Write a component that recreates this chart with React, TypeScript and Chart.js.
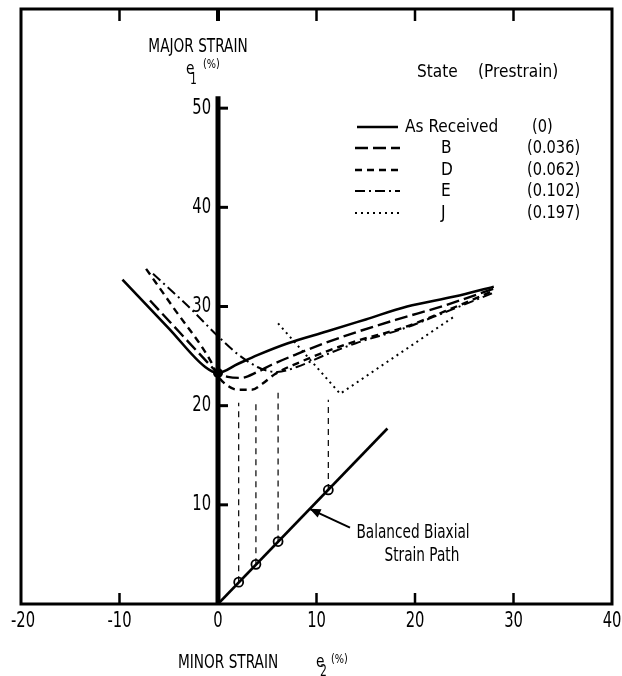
import React, { useEffect, useRef } from "react";
import { Chart, registerables } from "chart.js";

Chart.register(...registerables);

const X_TICKS = [-20, -10, 0, 10, 20, 30, 40];
const Y_TICKS = [10, 20, 30, 40, 50];
const TOP_TICKS = [-10, 0, 10, 20, 30];
const BOTTOM_TICKS = [-10, 10, 20, 30];
const Y_AXIS_TOP = 51.2;

const AS_RECEIVED_X = [-9.7, -5, -1.3, 0, 2, 4, 7.1, 11.1, 15, 19.2, 24, 28];
const AS_RECEIVED_Y = [32.7, 27.8, 23.9, 23.3, 24.2, 25.1, 26.3, 27.5, 28.7, 30.0, 31.0, 32.0];

const B_X = [-6.9, -4, -1, 0, 1, 2.3, 4, 5.4, 8, 11.1, 14, 18.2, 23, 28];
const B_Y = [30.6, 27.5, 24.3, 23.3, 22.9, 22.8, 23.4, 24.1, 25.2, 26.4, 27.4, 28.7, 30.1, 31.8];

const D_X = [-7.3, -4.5, -0.8, 0, 1, 2, 3.4, 4.5, 5.8, 8.1, 11.1, 14, 18.9, 23, 28];
const D_Y = [33.8, 29.85, 24.6, 23.0, 22.0, 21.6, 21.6, 22.2, 23.2, 24.3, 25.5, 26.5, 27.9, 29.5, 31.6];

const E_X = [-6.6, -3, 0, 2, 4, 5.1, 6, 8, 11.1, 14, 18.9, 23, 28];
const E_Y = [33.3, 30.0, 27.0, 25.2, 23.9, 23.5, 23.4, 23.9, 25.2, 26.3, 27.8, 29.4, 31.4];

const J_X = [6.1, 12.4, 24.0];
const J_Y = [28.3, 21.2, 29.0];

const PATH_X = [0, 17.2];
const PATH_Y = [0, 17.7];

const PRESTRAIN_X = [2.1, 3.85, 6.1, 11.2];
const PRESTRAIN_Y = [2.2, 4.0, 6.3, 11.5];
const DROP_TOP_Y = [20.3, 20.6, 21.3, 20.6];

const JUNCTION_X = [0];
const JUNCTION_Y = [23.3];

const ARROW_TAIL = [13.4, 7.7];
const ARROW_TIP = [9.3, 9.6];

const LEGEND_STATES = ["As Received", "B", "D", "E", "J"];
const LEGEND_PRESTRAIN = ["(0)", "(0.036)", "(0.062)", "(0.102)", "(0.197)"];

const FONT = '"DejaVu Sans Condensed", "Liberation Sans Narrow", "DejaVu Sans", sans-serif';

const STYLES = [
  { dash: [] as number[], width: 2.6 },
  { dash: [13, 5], width: 2.4 },
  { dash: [7, 5], width: 2.4 },
  { dash: [10, 4, 2, 4], width: 2.0 },
  { dash: [2, 4], width: 2.0 },
];

const pts = (xs: number[], ys: number[]) => xs.map((v, i) => ({ x: v, y: ys[i] }));

const curve = (label: string, xs: number[], ys: number[], idx: number, smooth = true) => ({
  label,
  data: pts(xs, ys),
  borderColor: "#000",
  borderWidth: STYLES[idx].width,
  borderDash: STYLES[idx].dash,
  borderCapStyle: "butt",
  pointRadius: 0,
  fill: false,
  showLine: true,
  cubicInterpolationMode: smooth ? "monotone" : "default",
  tension: 0,
});

const txt = (
  ctx: CanvasRenderingContext2D,
  s: string,
  x: number,
  y: number,
  size: number,
  sx: number,
  align: CanvasTextAlign = "left",
) => {
  ctx.save();
  ctx.font = `${size}px ${FONT}`;
  ctx.textAlign = align;
  ctx.textBaseline = "middle";
  ctx.translate(x, y);
  ctx.scale(sx, 1);
  ctx.fillText(s, 0, 0);
  ctx.restore();
};

const overlayPlugin = {
  id: "overlay",
  afterDatasetsDraw(chart: any) {
    const { ctx, chartArea: a, scales } = chart;
    const xs = scales.x;
    const ys = scales.y;
    const line = (x1: number, y1: number, x2: number, y2: number) => {
      ctx.beginPath();
      ctx.moveTo(x1, y1);
      ctx.lineTo(x2, y2);
      ctx.stroke();
    };
    ctx.save();
    ctx.strokeStyle = "#000";
    ctx.fillStyle = "#000";
    ctx.setLineDash([]);
    ctx.lineCap = "butt";

    // frame
    ctx.lineWidth = 3;
    ctx.strokeRect(a.left, a.top, a.right - a.left, a.bottom - a.top);

    TOP_TICKS.forEach((v) => {
      const px = xs.getPixelForValue(v);
      ctx.lineWidth = v === 0 ? 4 : 2.5;
      line(px, a.top, px, a.top + 12);
    });
    ctx.lineWidth = 2.5;
    BOTTOM_TICKS.forEach((v) => {
      const px = xs.getPixelForValue(v);
      line(px, a.bottom, px, a.bottom - 11);
    });

    // x tick labels
    X_TICKS.forEach((v) => {
      txt(ctx, String(v), xs.getPixelForValue(v) + (v === -20 ? 2 : 0), a.bottom + 18, 21, 0.78, "center");
    });

    // y axis at x = 0
    const x0 = xs.getPixelForValue(0);
    ctx.lineWidth = 5;
    line(x0, ys.getPixelForValue(0), x0, ys.getPixelForValue(Y_AXIS_TOP));
    ctx.lineWidth = 3;
    Y_TICKS.forEach((v) => {
      const py = ys.getPixelForValue(v);
      line(x0, py, x0 + 10, py);
      txt(ctx, String(v), x0 - 7, py, 21, 0.78, "right");
    });

    // arrow
    const tx = xs.getPixelForValue(ARROW_TAIL[0]);
    const ty = ys.getPixelForValue(ARROW_TAIL[1]);
    const hx = xs.getPixelForValue(ARROW_TIP[0]);
    const hy = ys.getPixelForValue(ARROW_TIP[1]);
    ctx.lineWidth = 2;
    line(tx, ty, hx, hy);
    const ang = Math.atan2(hy - ty, hx - tx);
    const L = 11;
    const W = 4.5;
    ctx.beginPath();
    ctx.moveTo(hx, hy);
    ctx.lineTo(hx - L * Math.cos(ang) + W * Math.sin(ang), hy - L * Math.sin(ang) - W * Math.cos(ang));
    ctx.lineTo(hx - L * Math.cos(ang) - W * Math.sin(ang), hy - L * Math.sin(ang) + W * Math.cos(ang));
    ctx.closePath();
    ctx.fill();

    // annotation text
    txt(ctx, "Balanced Biaxial", xs.getPixelForValue(19.8), ys.getPixelForValue(7.2), 19, 0.8, "center");
    txt(ctx, "Strain Path", xs.getPixelForValue(20.7), ys.getPixelForValue(4.8), 19, 0.8, "center");

    // y title
    txt(ctx, "MAJOR STRAIN", 198, 47, 19, 0.8, "center");
    txt(ctx, "e", 186, 69, 18, 0.85, "left");
    txt(ctx, "1", 190, 80, 15, 0.8, "left");
    txt(ctx, "(%)", 203, 65, 12, 0.9, "left");

    // x title
    txt(ctx, "MINOR STRAIN", 178, 663, 19, 0.8, "left");
    txt(ctx, "e", 316, 662, 18, 0.85, "left");
    txt(ctx, "2", 320, 672, 15, 0.8, "left");
    txt(ctx, "(%)", 331, 660, 12, 0.9, "left");

    // legend
    txt(ctx, "State", 417, 72, 18, 0.95, "left");
    txt(ctx, "(Prestrain)", 478, 72, 18, 0.95, "left");
    const rowY = [127, 148, 170, 191, 213];
    LEGEND_STATES.forEach((name, i) => {
      const yy = rowY[i];
      ctx.setLineDash(STYLES[i].dash);
      ctx.lineWidth = STYLES[i].width;
      line(i === 0 ? 357 : 355, yy, i === 0 ? 398 : 400, yy);
      ctx.setLineDash([]);
      txt(ctx, name, i === 0 ? 405 : 441, yy, 18, 0.95, "left");
      txt(ctx, LEGEND_PRESTRAIN[i], i === 0 ? 532 : 527, yy, 18, 0.9, "left");
    });

    ctx.restore();
  },
};

export default function App() {
  const ref = useRef<HTMLCanvasElement | null>(null);
  useEffect(() => {
    if (!ref.current) return;
    const drops = PRESTRAIN_X.map((px, i) => ({
      label: `drop${i}`,
      data: [
        { x: px, y: PRESTRAIN_Y[i] },
        { x: px, y: DROP_TOP_Y[i] },
      ],
      borderColor: "#000",
      borderWidth: 1.2,
      borderDash: [6, 5],
      pointRadius: 0,
      showLine: true,
      fill: false,
    }));
    const chart = new Chart(ref.current, {
      type: "scatter",
      data: {
        datasets: [
          ...drops,
          curve("As Received", AS_RECEIVED_X, AS_RECEIVED_Y, 0),
          curve("B", B_X, B_Y, 1),
          curve("D", D_X, D_Y, 2),
          curve("E", E_X, E_Y, 3),
          curve("J", J_X, J_Y, 4, false),
          {
            label: "path",
            data: pts(PATH_X, PATH_Y),
            borderColor: "#000",
            borderWidth: 2.6,
            pointRadius: 0,
            showLine: true,
            fill: false,
          },
          {
            label: "prestrain",
            data: pts(PRESTRAIN_X, PRESTRAIN_Y),
            showLine: false,
            pointRadius: 4.5,
            pointBorderWidth: 1.8,
            pointBorderColor: "#000",
            pointBackgroundColor: "rgba(0,0,0,0)",
          },
          {
            label: "junction",
            data: pts(JUNCTION_X, JUNCTION_Y),
            showLine: false,
            pointRadius: 5,
            pointBorderWidth: 0,
            pointBackgroundColor: "#000",
            pointBorderColor: "#000",
          },
        ] as any,
      },
      options: {
        animation: false,
        responsive: false,
        maintainAspectRatio: false,
        layout: { padding: { left: 21, right: 10, top: 9, bottom: 72 } },
        plugins: { legend: { display: false }, tooltip: { enabled: false } },
        scales: {
          x: { type: "linear", min: -20, max: 40, display: false },
          y: { type: "linear", min: 0, max: 60, display: false },
        },
      } as any,
      plugins: [overlayPlugin],
    });
    return () => chart.destroy();
  }, []);
  return (
    <div style={{ position: "absolute", left: 0, top: 0, width: 622, height: 676, background: "#fff" }}>
      <canvas ref={ref} width={622} height={676} style={{ width: 622, height: 676, display: "block" }} />
    </div>
  );
}
